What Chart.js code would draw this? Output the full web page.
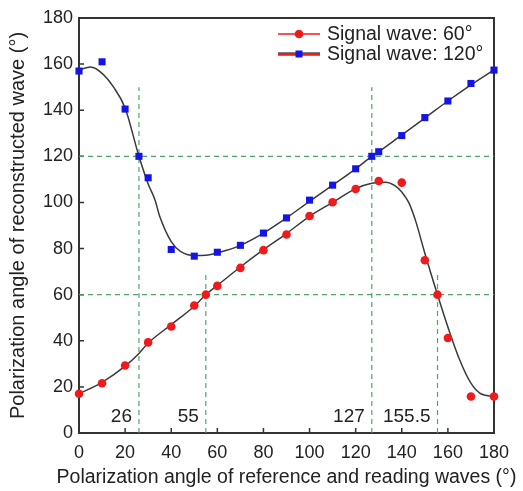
<!DOCTYPE html>
<html>
<head>
<meta charset="utf-8">
<script src="https://cdn.jsdelivr.net/npm/chart.js@4.4.1/dist/chart.umd.min.js"></script>
<style>
  html, body { margin: 0; padding: 0; background: #fff; }
  #wrap { width: 523px; height: 491px; }
</style>
</head>
<body>
<div id="wrap"><canvas id="chart1" width="523" height="491"></canvas></div>
<script>
// measured points
const redX = [0, 10, 20, 30, 40, 50, 55, 60, 70, 80, 90, 100, 110, 120, 130, 140, 150, 155.5, 160, 170, 180];
const redY = [17, 21.6, 29.3, 39.3, 46.2, 55.3, 60, 63.8, 71.6, 79.3, 86.1, 94.1, 100.1, 105.8, 109.3, 108.6, 74.9, 60, 41.2, 15.8, 15.8];
const blueX = [0, 10, 20, 26, 30, 40, 50, 60, 70, 80, 90, 100, 110, 120, 127, 130, 140, 150, 160, 170, 180];
const blueY = [157, 161, 140.5, 120, 110.7, 79.6, 76.7, 78.4, 81.4, 86.7, 93.3, 101, 107.5, 114.6, 120, 122, 129, 136.8, 144, 151.6, 157.4];

// fitted curves
const redFitX = [0, 10, 20, 26, 30, 40, 50, 55, 60, 70, 80, 90, 100, 110, 120, 127, 133, 137, 140, 143, 146, 150, 155.5, 160, 165, 170, 174, 180];
const redFitY = [17, 22, 29, 34.5, 39, 47, 55, 60, 64, 72, 79.5, 86.5, 94, 100, 106, 108.3, 108.8, 107.3, 104.5, 100, 92, 78, 60, 46, 32, 21.6, 17.2, 15.8];
const blueFitX = [0, 5, 10, 15, 20, 26, 30, 33, 35, 40, 44, 50, 55, 61, 70, 80, 90, 100, 110, 120, 127, 130, 140, 150, 160, 170, 180];
const blueFitY = [157.5, 158.7, 156, 150, 141, 120, 108, 101, 94, 83, 78.8, 77, 77.1, 78.4, 81.4, 86.7, 93.3, 100.5, 107.5, 114.6, 120, 122, 129.3, 136.6, 144, 151, 157.5];

// guide lines
const guideX = [26, 55, 127, 155.5];
const guideTop = [150, 70, 150, 70];
const guideY = [60, 120];
const guideLabels = ['26', '55', '127', '155.5'];

const seriesNames = ['Signal wave: 60°', 'Signal wave: 120°'];
const xTitle = 'Polarization angle of reference and reading waves (°)';
const yTitle = 'Polarization angle of reconstructed wave (°)';

const FONT = "'Liberation Sans', Arial, sans-serif";
const RED = '#f01a1a';
const BLUE = '#1414e6';
const CURVE = '#3a3a3a';
const GREEN = 'rgba(70,160,100,0.95)';

function pts(xs, ys) {
    return xs.map((x, i) => ({ x: x, y: ys[i] }));
}

const datasets = [
    { data: pts(redX, redY), showLine: false, pointStyle: 'circle', pointRadius: 4.3,
      pointBackgroundColor: RED, pointBorderWidth: 0, clip: false },
    { data: pts(blueX, blueY), showLine: false, pointStyle: 'rect', pointRadius: 5,
      pointBackgroundColor: BLUE, pointBorderWidth: 0, clip: false },
    { data: pts(redFitX, redFitY), showLine: true, borderColor: CURVE, borderWidth: 1.5, pointRadius: 0,
      cubicInterpolationMode: 'monotone', clip: false },
    { data: pts(blueFitX, blueFitY), showLine: true, borderColor: CURVE, borderWidth: 1.5, pointRadius: 0,
      cubicInterpolationMode: 'monotone', clip: false },
];

guideY.forEach(v => {
    datasets.push({ data: [{ x: 0, y: v }, { x: 180, y: v }], showLine: true, borderColor: GREEN,
        borderWidth: 1.2, borderDash: [5, 4], pointRadius: 0 });
});
guideX.forEach((v, i) => {
    datasets.push({ data: [{ x: v, y: 0 }, { x: v, y: guideTop[i] }], showLine: true, borderColor: GREEN,
        borderWidth: 1.2, borderDash: [5, 4], pointRadius: 0 });
});

// frame + inward ticks
const framePlugin = {
    id: 'frame',
    beforeDatasetsDraw(chart) {
        const { ctx, chartArea: a, scales } = chart;
        ctx.save();
        ctx.strokeStyle = '#333';
        ctx.lineWidth = 2;
        ctx.strokeRect(a.left, a.top, a.right - a.left, a.bottom - a.top);
        ctx.lineWidth = 1.5;
        ctx.beginPath();
        scales.x.ticks.forEach(t => {
            const px = scales.x.getPixelForValue(t.value);
            ctx.moveTo(px, a.bottom);
            ctx.lineTo(px, a.bottom - 5);
        });
        scales.y.ticks.forEach(t => {
            const py = scales.y.getPixelForValue(t.value);
            ctx.moveTo(a.left, py);
            ctx.lineTo(a.left + 5, py);
        });
        ctx.stroke();
        ctx.restore();
    },
    afterDraw(chart) {
        const { ctx, chartArea: a, scales } = chart;
        ctx.save();
        ctx.fillStyle = '#222';
        ctx.textBaseline = 'middle';
        // x axis title (drawn here so it is not squeezed to the axis width)
        ctx.font = '19.5px ' + FONT;
        ctx.textAlign = 'center';
        ctx.fillText(xTitle, (a.left + a.right) / 2, a.bottom + 45);
        // guide labels
        ctx.font = '19px ' + FONT;
        ctx.textAlign = 'right';
        const ly = scales.y.getPixelForValue(0) - 16;
        guideX.forEach((v, i) => {
            ctx.fillText(guideLabels[i], scales.x.getPixelForValue(v) - 7, ly);
        });
        // legend
        ctx.font = '19.5px ' + FONT;
        ctx.textAlign = 'left';
        const x0 = a.right - 216, x1 = a.right - 174, mx = (x0 + x1) / 2;
        [0, 1].forEach(i => {
            const y = a.top + 16 + i * 20;
            if (i === 1) {
                ctx.strokeStyle = '#555';
                ctx.lineWidth = 3.5;
                ctx.beginPath(); ctx.moveTo(x0, y); ctx.lineTo(x1, y); ctx.stroke();
            }
            ctx.strokeStyle = RED;
            ctx.lineWidth = i === 1 ? 2 : 1.5;
            ctx.beginPath(); ctx.moveTo(x0, y); ctx.lineTo(x1, y); ctx.stroke();
            if (i === 0) {
                ctx.fillStyle = RED;
                ctx.beginPath(); ctx.arc(mx, y, 4.3, 0, Math.PI * 2); ctx.fill();
            } else {
                ctx.fillStyle = BLUE;
                ctx.fillRect(mx - 3.5, y - 3.5, 7, 7);
            }
            ctx.fillStyle = '#222';
            ctx.fillText(seriesNames[i], a.right - 167, y + 1);
        });
        ctx.restore();
    }
};

new Chart(document.getElementById('chart1'), {
    type: 'scatter',
    data: { datasets: datasets },
    plugins: [framePlugin],
    options: {
        responsive: false,
        animation: false,
        events: [],
        layout: { padding: { top: 18, right: 29, left: 0, bottom: 0 } },
        elements: { line: { fill: false } },
        plugins: { legend: { display: false }, tooltip: { enabled: false } },
        scales: {
            x: {
                type: 'linear', min: 0, max: 180,
                afterFit: s => { s.height = 58; },
                ticks: { stepSize: 20, padding: 9, color: '#222', font: { family: FONT, size: 18 } },
                grid: { display: false, drawTicks: false },
                border: { display: false },
                title: { display: false }
            },
            y: {
                type: 'linear', min: 0, max: 180,
                afterFit: s => { s.width = 79; },
                ticks: { stepSize: 20, padding: 6, color: '#222', font: { family: FONT, size: 18 } },
                grid: { display: false, drawTicks: false },
                border: { display: false },
                title: { display: true, text: yTitle, color: '#222', padding: { top: 6, bottom: 0 },
                         font: { family: FONT, size: 20 } }
            }
        }
    }
});
</script>
</body>
</html>
